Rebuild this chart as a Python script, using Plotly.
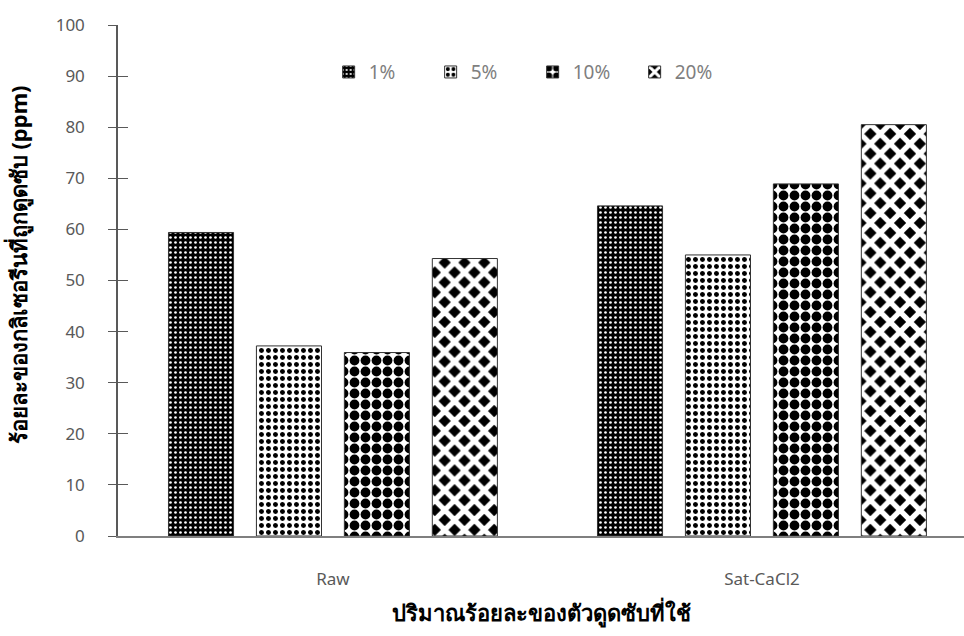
import plotly.graph_objects as go

categories = ["Raw", "Sat-CaCl2"]
series_names = ["1%", "5%", "10%", "20%"]
values = {
    "1%": [59.4, 64.6],
    "5%": [37.2, 55.0],
    "10%": [35.9, 68.9],
    "20%": [54.3, 80.5],
}
y_ticks = [0, 10, 20, 30, 40, 50, 60, 70, 80, 90, 100]

patterns = {
    "1%": dict(shape=".", fgcolor="white", bgcolor="black", size=5, solidity=0.22),
    "5%": dict(shape=".", fgcolor="black", bgcolor="white", size=7, solidity=0.4),
    "10%": dict(shape=".", fgcolor="black", bgcolor="white", size=11, solidity=0.62),
    "20%": dict(shape="x", fgcolor="white", bgcolor="black", size=14, solidity=0.62),
}

xpos = list(range(len(categories)))
fig = go.Figure()
for name in series_names:
    fig.add_trace(go.Bar(
        x=xpos, y=values[name], name=name,
        marker=dict(color="white", line=dict(color="#333333", width=1),
                    pattern=dict(fillmode="replace", **patterns[name])),
    ))

# invisible trace for the overlay axis (cross ticks)
fig.add_trace(go.Scatter(x=[0], y=[0], yaxis="y2", mode="markers",
                         marker=dict(opacity=0), showlegend=False, hoverinfo="skip"))

tick_font = dict(family="Noto Sans, Tahoma, sans-serif", size=17, color="#595959")
title_font = dict(family="Noto Sans, Tahoma, sans-serif", size=22, color="black")

fig.update_layout(
    width=964, height=636,
    margin=dict(l=118, r=0, t=25, b=100),
    paper_bgcolor="white", plot_bgcolor="white",
    barmode="group", bargap=0.18, bargroupgap=0.26,
    showlegend=True,
    legend=dict(orientation="h", x=0.249, y=0.945, xanchor="left", yanchor="top",
                font=dict(family="Noto Sans, Tahoma, sans-serif", size=19, color="#7f7f7f"),
                bgcolor="rgba(0,0,0,0)", itemwidth=30,
                entrywidth=57, entrywidthmode="pixels"),
    xaxis=dict(range=[-0.501, 1.471], tickvals=xpos, ticktext=categories,
               showgrid=False, zeroline=False, showline=True, linecolor="#7f7f7f",
               linewidth=1.5, ticks="", tickfont=tick_font, ticklabelstandoff=27,
               title=dict(text="<b>ปริมาณร้อยละของตัวดูดซับที่ใช้</b>", font=title_font, standoff=16)),
    yaxis=dict(range=[0, 100], tickvals=y_ticks, showgrid=False, zeroline=False,
               showline=True, linecolor="#595959", linewidth=1.5,
               ticks="outside", ticklen=8, tickwidth=1.2, tickcolor="#595959",
               tickfont=tick_font, ticklabelstandoff=20),
    yaxis2=dict(range=[0, 100], tickvals=y_ticks, overlaying="y", side="left",
                showgrid=False, zeroline=False, showline=False, showticklabels=False,
                ticks="inside", ticklen=10, tickwidth=1.2, tickcolor="#595959"),
    annotations=[dict(text="<b>ร้อยละของกลิเซอรีนที่ถูกดูดซับ (ppm)</b>", textangle=-90,
                      xref="paper", yref="paper", x=-0.118, y=0.53,
                      xanchor="center", yanchor="middle", showarrow=False,
                      font=title_font)],
)

fig.write_html("out.html")
